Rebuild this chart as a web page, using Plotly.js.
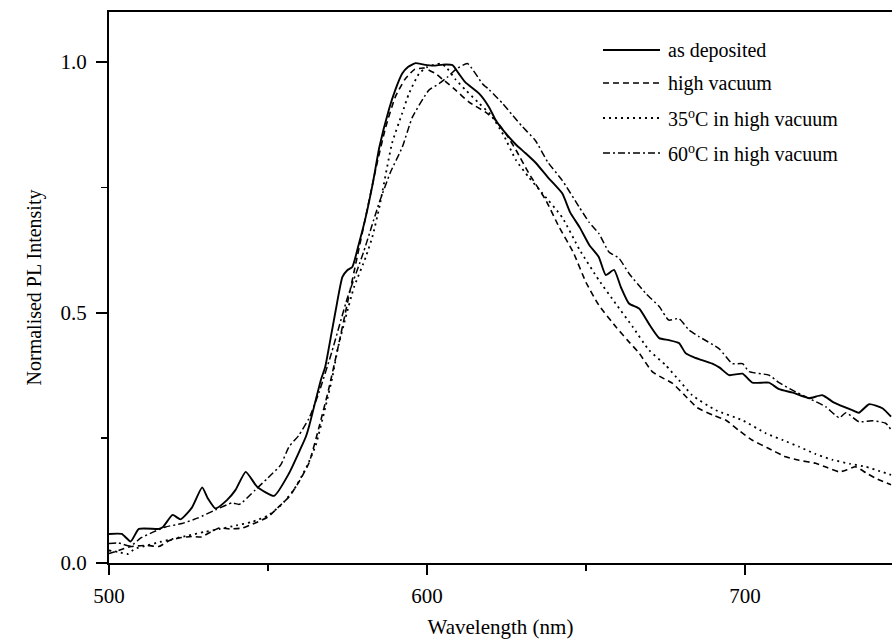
<!DOCTYPE html>
<html>
<head>
<meta charset="utf-8">
<script src="https://cdn.plot.ly/plotly-3.0.1.min.js"></script>
<style>html,body{margin:0;padding:0;background:#fff;}</style>
</head>
<body>
<div id="chart" style="width:892px;height:639px;"></div>
<script>
// Series names
const seriesNames = ["as deposited", "high vacuum", "35<sup>o</sup>C in high vacuum", "60<sup>o</sup>C in high vacuum"];

// as deposited
const wlAsDep = [500,504,506.8,509.4,515.7,517,520,522.5,526,529.3,531,533.5,537,539.8,543,546.6,551.9,556.6,560,561.9,563,566.6,568,570,571.3,573.4,575,576.5,578.6,580.7,583,585,588,590,592.2,594,596.4,599,602,605,608,610,612,616.4,619.5,621.6,624.7,628,631,634,638,642.5,645,648,651,654,656.2,658.8,661,663.5,666.7,670,673,676,679.2,681.3,683.4,685.5,689.7,692,695,699.2,702.3,707.5,710.7,715,720.1,724.3,728,733.7,735.8,739,743.2,745.9];
const yAsDep  = [0.058,0.058,0.043,0.068,0.068,0.072,0.096,0.087,0.11,0.151,0.13,0.109,0.125,0.146,0.182,0.152,0.134,0.179,0.225,0.252,0.275,0.365,0.392,0.46,0.505,0.571,0.585,0.591,0.638,0.69,0.76,0.83,0.905,0.944,0.977,0.99,0.998,0.995,0.993,0.995,0.994,0.977,0.96,0.937,0.91,0.884,0.858,0.835,0.818,0.80,0.77,0.738,0.70,0.67,0.635,0.611,0.575,0.585,0.55,0.518,0.508,0.475,0.449,0.445,0.439,0.419,0.412,0.407,0.398,0.39,0.375,0.378,0.36,0.36,0.347,0.34,0.329,0.335,0.32,0.305,0.30,0.317,0.309,0.292];

// high vacuum
const wlHV = [500,503,507,512,515.7,519,522,526,529,532,534.6,538,542,546,550,553,556.6,560,562.9,566,569,572,575,578,581,584,587,590,593,596,599,602.7,605,607,609,613.2,618.4,621.6,625,628,632,637.3,641.5,646,650,654,659.3,663,666.7,670.8,673.9,677.1,681,685,690,694,698,702.3,707,712.8,717,722.2,726,729.6,732,734.8,738,741.1,745.9];
const yHV  = [0.019,0.025,0.033,0.035,0.033,0.045,0.05,0.053,0.052,0.062,0.07,0.068,0.07,0.08,0.092,0.11,0.132,0.165,0.2,0.27,0.345,0.43,0.52,0.61,0.70,0.79,0.87,0.93,0.965,0.985,0.988,0.977,0.965,0.955,0.944,0.92,0.9,0.884,0.855,0.824,0.778,0.725,0.671,0.62,0.56,0.515,0.472,0.445,0.419,0.382,0.37,0.359,0.335,0.31,0.295,0.285,0.265,0.245,0.23,0.212,0.205,0.199,0.19,0.182,0.186,0.192,0.18,0.169,0.156];

// 35 C in high vacuum
const wl35 = [500,503,506,508,512,516,520,525,530,535,540,545,550,554,558,562,565,568,570.2,572,574.4,577,580.7,582.8,585,589,592.2,594.3,597.5,600,604.3,606,609,612,616,620,624,628,632,636,642.5,648,654,659.3,664.6,669.8,675,679.2,683.4,690.8,699.2,706.5,712,717,722,727.5,733,738,742,745.9];
const y35  = [0.025,0.022,0.018,0.028,0.035,0.042,0.048,0.055,0.062,0.068,0.075,0.082,0.095,0.115,0.145,0.19,0.235,0.31,0.37,0.43,0.49,0.55,0.61,0.651,0.71,0.838,0.898,0.937,0.977,0.99,0.997,0.99,0.965,0.945,0.92,0.895,0.855,0.804,0.77,0.74,0.69,0.625,0.565,0.518,0.472,0.425,0.395,0.365,0.335,0.305,0.285,0.259,0.245,0.232,0.218,0.206,0.198,0.192,0.184,0.176];

// 60 C in high vacuum
const wl60 = [500,503,506.8,510,514,517.8,523,528,533.5,538.7,541,546,550,554,556.6,559.7,562.9,566,570,575,580,585,588.5,592.2,595.4,600.6,603.8,606.4,609,612.7,617.4,619.5,623.7,627,630,634,638,642.5,647.8,651,654,657.2,660.4,663.5,668.8,673,676,679.2,682.4,685.5,691.8,696,699.2,701.3,707.5,710.7,714.9,720,725.3,729.6,731.7,735.8,740,744.2,745.9];
const y60  = [0.039,0.04,0.034,0.05,0.062,0.072,0.079,0.09,0.106,0.12,0.117,0.146,0.17,0.196,0.232,0.255,0.289,0.34,0.42,0.53,0.62,0.72,0.78,0.83,0.89,0.944,0.957,0.97,0.985,0.997,0.957,0.945,0.918,0.893,0.871,0.844,0.80,0.764,0.711,0.68,0.658,0.621,0.608,0.578,0.538,0.512,0.485,0.488,0.465,0.452,0.428,0.398,0.398,0.382,0.375,0.36,0.345,0.329,0.312,0.29,0.30,0.282,0.284,0.279,0.266];

const xTickVals = [500, 600, 700];
const xTickText = ["500", "600", "700"];
const yTickVals = [0, 0.5, 1.0];
const yTickText = ["0.0", "0.5", "1.0"];

const dashes = ["solid", "6px,4px", "2px,4px", "7px,3px,2px,3px"];
const widths = [1.9, 1.6, 1.8, 1.5];
const xs = [wlAsDep, wlHV, wl35, wl60];
const ys = [yAsDep, yHV, y35, y60];

const traces = xs.map((x, i) => ({
  x: x, y: ys[i], type: "scatter", mode: "lines", name: seriesNames[i],
  line: {color: "black", width: widths[i], dash: dashes[i], shape: "spline", smoothing: 0.5},
  hoverinfo: "skip"
}));

// manual legend
const L = 109, W = 783, B = 563, H = 551;
const rowY = [50, 83, 118, 153];
const shapes = [], annotations = [];
rowY.forEach((Y, i) => {
  const py = (B - Y) / H;
  shapes.push({type: "line", xref: "paper", yref: "paper",
    x0: (603 - L) / W, x1: (660 - L) / W, y0: py, y1: py,
    line: {color: "black", width: widths[i], dash: dashes[i]}});
  annotations.push({xref: "paper", yref: "paper", x: (666 - L) / W, y: py,
    xanchor: "left", yanchor: "middle", showarrow: false, text: seriesNames[i],
    font: {family: "Liberation Serif", size: 20, color: "black"}});
});

const layout = {
  width: 892, height: 639,
  margin: {l: 109, r: 0, t: 12, b: 76},
  paper_bgcolor: "white", plot_bgcolor: "white",
  showlegend: false,
  font: {family: "Liberation Serif", size: 21, color: "black"},
  xaxis: {
    range: [500, 746.2], tickmode: "array", tickvals: xTickVals, ticktext: xTickText,
    ticks: "outside", ticklen: 10, tickwidth: 2, tickcolor: "black",
    showline: true, linewidth: 2, linecolor: "black", mirror: true,
    showgrid: false, zeroline: false, ticklabelstandoff: 3,
    minor: {tickvals: [550, 650], ticks: "outside", ticklen: 6, tickwidth: 1.5, tickcolor: "black", showgrid: false},
    title: {text: "Wavelength (nm)", font: {size: 21}, standoff: 12}
  },
  yaxis: {
    range: [0, 1.1], tickmode: "array", tickvals: yTickVals, ticktext: yTickText,
    ticks: "outside", ticklen: 11, tickwidth: 2, tickcolor: "black",
    showline: true, linewidth: 2, linecolor: "black",
    showgrid: false, zeroline: false, ticklabelstandoff: 5,
    minor: {tickvals: [0.25, 0.75], ticks: "outside", ticklen: 6, tickwidth: 1.5, tickcolor: "black", showgrid: false},
    title: {text: "Normalised PL Intensity", font: {size: 20}, standoff: 14}
  },
  shapes: shapes,
  annotations: annotations
};

Plotly.newPlot("chart", traces, layout, {displayModeBar: false, staticPlot: true});
</script>
</body>
</html>
